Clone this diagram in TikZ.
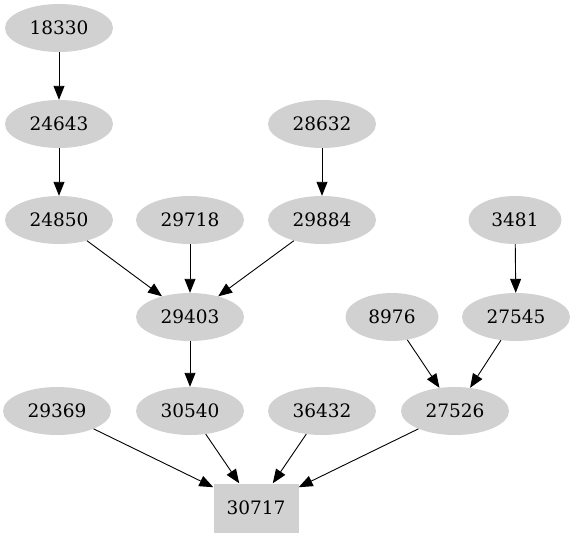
\documentclass[tikz,border=0pt]{standalone}
\usepackage{fontspec}
\setmainfont{DejaVu Serif}
\usetikzlibrary{arrows.meta,shapes.geometric}

\tikzset{
    nd/.style={ellipse, fill=black!18, minimum width=108pt, minimum height=48pt, inner sep=0pt, font=\fontsize{18.5}{20}\selectfont},
    ndsmall/.style={nd, minimum width=93pt},
    sink/.style={rectangle, fill=black!18, minimum width=85pt, minimum height=49pt, inner sep=0pt, font=\fontsize{18.5}{20}\selectfont},
    edge/.style={-{Triangle[length=14pt,width=11pt]}, line width=0.9pt}
}

\begin{document}
\begin{tikzpicture}[x=1pt,y=-1pt]
        \useasboundingbox (0,0) rectangle (575,539);
        % nodes, row by row
        \node[nd] (n18330) at (59,28) {18330};
        \node[nd] (n24643) at (59,124) {24643};
        \node[nd] (n28632) at (322,124) {28632};
        \node[nd] (n24850) at (59,220) {24850};
        \node[nd] (n29718) at (190,220) {29718};
        \node[nd] (n29884) at (322,220) {29884};
        \node[ndsmall] (n3481) at (515,220) {3481};
        \node[nd] (n29403) at (190,317) {29403};
        \node[ndsmall] (n8976) at (392,317) {8976};
        \node[nd] (n27545) at (516,317) {27545};
        \node[nd] (n29369) at (57,411) {29369};
        \node[nd] (n30540) at (190,411) {30540};
        \node[nd] (n36432) at (322,411) {36432};
        \node[nd] (n27526) at (455,411) {27526};
        \node[sink] (n30717) at (256,508) {30717};
        % edges
        \draw[edge] (n18330) -- (n24643);
        \draw[edge] (n24643) -- (n24850);
        \draw[edge] (n28632) -- (n29884);
        \draw[edge] (n24850) -- (n29403);
        \draw[edge] (n29718) -- (n29403);
        \draw[edge] (n29884) -- (n29403);
        \draw[edge] (n3481) -- (n27545);
        \draw[edge] (n29403) -- (n30540);
        \draw[edge] (n8976) -- (n27526);
        \draw[edge] (n27545) -- (n27526);
        \draw[edge] (n29369) -- (n30717);
        \draw[edge] (n30540) -- (n30717);
        \draw[edge] (n36432) -- (n30717);
        \draw[edge] (n27526) -- (n30717);
    \end{tikzpicture}
\end{document}
